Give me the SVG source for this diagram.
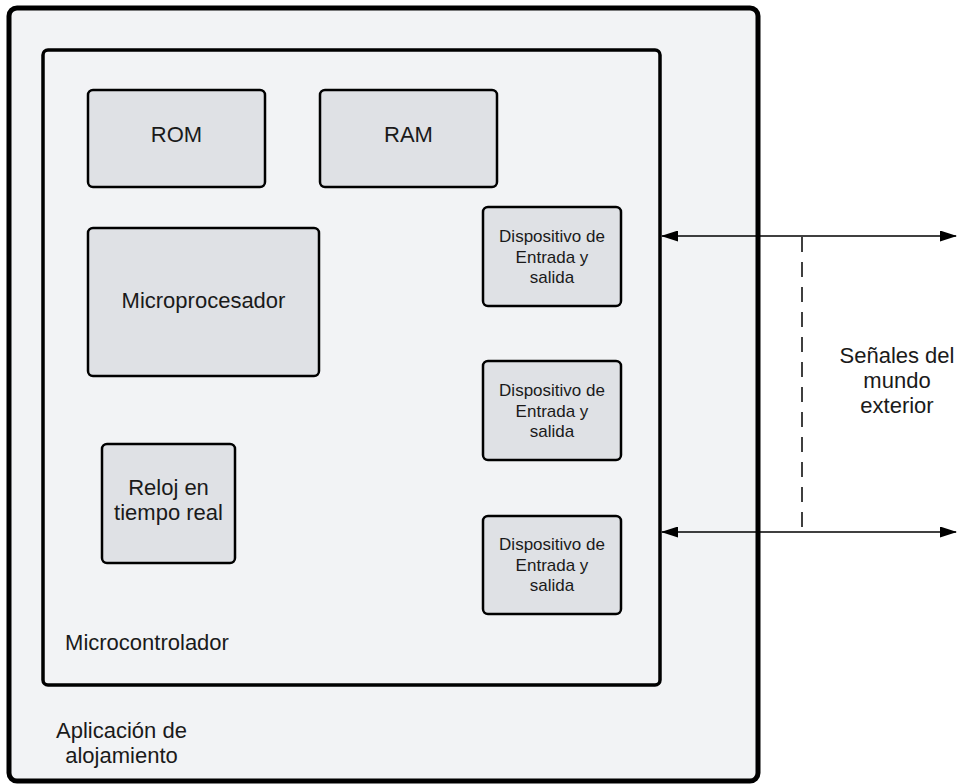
<svg xmlns="http://www.w3.org/2000/svg" width="959" height="784" viewBox="0 0 959 784">
<style>
.box{fill:#dfe1e5;stroke:#000;stroke-width:2.5}
.t{font-family:"Liberation Sans",Arial,sans-serif;fill:#1a1a1a;text-anchor:middle}
.l{font-size:22px}
.s{font-size:17px}
.conn{stroke:#000;stroke-width:1.5;fill:none}
</style>
<defs>
<marker id="ah" viewBox="0 0 17 11" refX="16" refY="5.5" markerWidth="17" markerHeight="11" markerUnits="userSpaceOnUse" orient="auto-start-reverse">
<path d="M0,0 L17,5.5 L0,11 Z" fill="#000"/>
</marker>
</defs>
<rect x="0" y="0" width="959" height="784" fill="#fff"/>
<g id="aplicacion">
<rect x="9" y="8" width="749" height="773" rx="8" fill="#f2f3f5" stroke="#000" stroke-width="5"/>
<text class="t l" x="121.5" y="738">Aplicación de</text>
<text class="t l" x="121.5" y="763">alojamiento</text>
</g>
<g id="microcontrolador">
<rect x="43" y="50" width="617" height="635" rx="5" fill="#f2f3f5" stroke="#000" stroke-width="3.5"/>
<text class="t l" x="147" y="650">Microcontrolador</text>
</g>
<g id="rom">
<rect class="box" x="88" y="90" width="177" height="97" rx="5"/>
<text class="t l" x="176.5" y="142">ROM</text>
</g>
<g id="ram">
<rect class="box" x="320" y="90" width="177" height="97" rx="5"/>
<text class="t l" x="408.5" y="142">RAM</text>
</g>
<g id="microprocesador">
<rect class="box" x="88" y="228" width="231" height="148" rx="5"/>
<text class="t l" x="203.5" y="308">Microprocesador</text>
</g>
<g id="reloj">
<rect class="box" x="102" y="444" width="133" height="119" rx="5"/>
<text class="t l" x="168.5" y="495">Reloj en</text>
<text class="t l" x="168.5" y="520">tiempo real</text>
</g>
<g id="dispositivo1">
<rect class="box" x="483" y="207" width="138" height="99" rx="5"/>
<text class="t s" x="552" y="242">Dispositivo de</text>
<text class="t s" x="552" y="263">Entrada y</text>
<text class="t s" x="552" y="283">salida</text>
</g>
<g id="dispositivo2">
<rect class="box" x="483" y="361" width="138" height="99" rx="5"/>
<text class="t s" x="552" y="396">Dispositivo de</text>
<text class="t s" x="552" y="417">Entrada y</text>
<text class="t s" x="552" y="437">salida</text>
</g>
<g id="dispositivo3">
<rect class="box" x="483" y="516" width="138" height="98" rx="5"/>
<text class="t s" x="552" y="550">Dispositivo de</text>
<text class="t s" x="552" y="571">Entrada y</text>
<text class="t s" x="552" y="591">salida</text>
</g>
<g id="senales">
<text class="t l" x="897" y="363">Señales del</text>
<text class="t l" x="897" y="388">mundo</text>
<text class="t l" x="897" y="413">exterior</text>
</g>
<g id="connectors">
<line class="conn" x1="662" y1="236" x2="956" y2="236" marker-start="url(#ah)" marker-end="url(#ah)"/>
<line class="conn" x1="662" y1="532" x2="956" y2="532" marker-start="url(#ah)" marker-end="url(#ah)"/>
<line class="conn" x1="802" y1="237" x2="802" y2="531" stroke-dasharray="15,10"/>
</g>
</svg>
